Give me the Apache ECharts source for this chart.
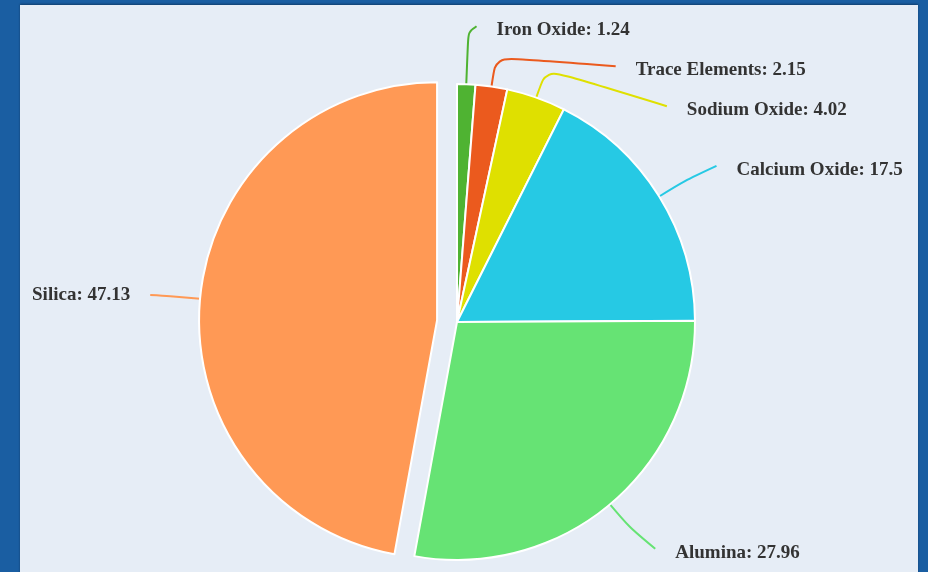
<!DOCTYPE html>
<html>
<head>
<meta charset="utf-8">
<script src="https://cdn.jsdelivr.net/npm/echarts@6/dist/echarts.min.js"></script>
<style>
  html, body { margin: 0; padding: 0; width: 928px; height: 572px; overflow: hidden; background: #1a5ea2; }
  #wrap { position: absolute; left: 20px; top: 5px; width: 898px; height: 600px; background: #e6edf6; box-shadow: 0 -1px 2px rgba(0,0,0,0.35); }
  #chart { width: 898px; height: 600px; }
</style>
</head>
<body>
<div id="wrap"><div id="chart"></div></div>
<script>
const categories = ['Iron Oxide', 'Trace Elements', 'Sodium Oxide', 'Calcium Oxide', 'Alumina', 'Silica'];
const values = [1.24, 2.15, 4.02, 17.5, 27.96, 47.13];
const colors = ['#4fb332', '#eb5a1e', '#dfe000', '#26c9e4', '#66e374', '#ff9955'];
const selectedName = 'Silica';

const CX = 437, CY = 317, R = 238;
const LINE_LEN = 58, LINE_LEN2 = 8;
const LABEL_R = 301;     // radius on which shifted label lines end
const LABEL_GAP = 20;    // gap between line end and text
const TEXT_DROP = 4;     // text sits slightly below its line end

function layoutLabel(params) {
  const pts = params.labelLinePoints;
  const rect = params.labelRect;
  if (!pts || pts.length < 3) return {};
  const p1 = pts[0], p3 = pts[2];
  const side = p3[0] >= CX ? 1 : -1;
  const dx = p1[0] - CX, dy = p1[1] - CY;
  const d = Math.sqrt(dx * dx + dy * dy) || 1;
  let xEnd = p3[0];
  if (side > 0) {
    const natY = CY + dy / d * (R + LINE_LEN);
    const natX = CX + dx / d * (R + LINE_LEN) + LINE_LEN2;
    if (Math.abs(p3[1] - natY) > 1.5) {
      const dyE = p3[1] - CY;
      xEnd = CX + Math.sqrt(Math.max(LABEL_R * LABEL_R - dyE * dyE, 0));
    } else {
      xEnd = natX;
    }
  }
  const bend = params.dataIndex === 0 ? 52 : 30;
  const p2 = [p1[0] + dx / d * bend, p1[1] + dy / d * bend];
  const out = {
    labelLinePoints: [[p1[0], p1[1]], p2, [xEnd, p3[1]]],
    y: rect.y + rect.height / 2 + TEXT_DROP
  };
  if (side > 0) { out.x = xEnd + LABEL_GAP; out.align = 'left'; }
  return out;
}

const chart = echarts.init(document.getElementById('chart'), null, { renderer: 'canvas' });
chart.setOption({
  backgroundColor: 'transparent',
  animation: false,
  series: [{
    type: 'pie',
    center: [CX, CY],
    radius: R,
    startAngle: 90,
    clockwise: true,
    selectedMode: 'single',
    selectedOffset: 20,
    avoidLabelOverlap: true,
    itemStyle: { borderColor: '#ffffff', borderWidth: 2 },
    label: {
      show: true,
      formatter: '{b}: {c}',
      fontFamily: '"Liberation Serif", "Times New Roman", serif',
      fontWeight: 'bold',
      fontSize: 19,
      lineHeight: 38,
      color: '#333333',
      bleedMargin: 0,
      distanceToLabelLine: LABEL_GAP
    },
    labelLine: { show: true, length: LINE_LEN, length2: LINE_LEN2, smooth: true, lineStyle: { width: 2 } },
    labelLayout: layoutLabel,
    emphasis: { disabled: true },
    data: categories.map((c, i) => ({
      name: c,
      value: values[i],
      selected: c === selectedName,
      itemStyle: { color: colors[i] },
      labelLine: c === selectedName
        ? { length: 42, lineStyle: { color: colors[i] } }
        : { lineStyle: { color: colors[i] } }
    }))
  }]
});
</script>
</body>
</html>
